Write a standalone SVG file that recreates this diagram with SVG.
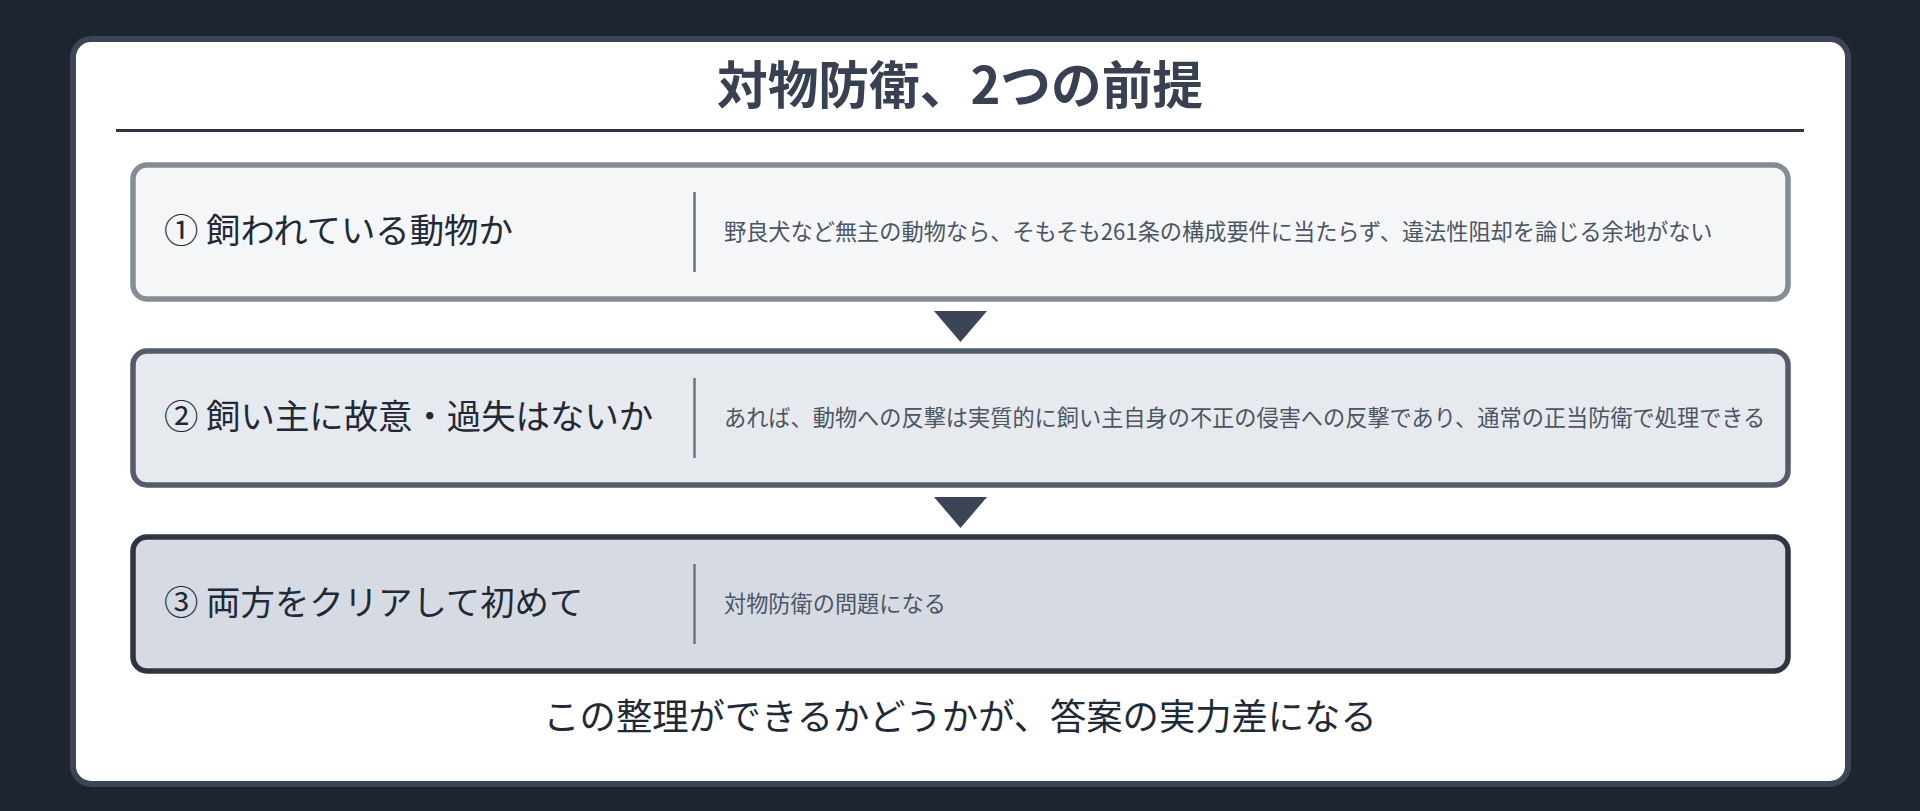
<svg xmlns="http://www.w3.org/2000/svg" width="1920" height="811" viewBox="0 0 1920 811">
  <style>
    text { font-family: "Noto Sans CJK JP", "Noto Sans", sans-serif; }
    .title { font-size: 50.7px; font-weight: 700; fill: #374151; }
    .label { font-size: 34.4px; fill: #1f2937; }
    .desc { font-size: 22.2px; fill: #4b5563; }
    .foot { font-size: 36.3px; fill: #1f2937; }
    .div { stroke: #6b7280; stroke-width: 2.5; }
    .arrow { fill: #3b4555; }
  </style>
  <rect x="0" y="0" width="1920" height="811" fill="#1e2530"/>
  <g id="card">
    <rect x="73" y="39" width="1775" height="745" rx="18" fill="#ffffff" stroke="#3b4555" stroke-width="6"/>
  </g>
  <g id="title">
    <text class="title" x="960" y="104" text-anchor="middle">対物防衛、2つの前提</text>
    <line x1="116" y1="130.5" x2="1804" y2="130.5" stroke="#2d3440" stroke-width="3"/>
  </g>
  <g id="step1">
    <rect x="133" y="165" width="1655" height="134" rx="14" fill="#f5f6f8" stroke="#848c99" stroke-width="5.5"/>
    <text class="label" x="164" y="243">① 飼われている動物か</text>
    <line class="div" x1="694.5" y1="192" x2="694.5" y2="272"/>
    <text class="desc" x="724" y="240">野良犬など無主の動物なら、そもそも261条の構成要件に当たらず、違法性阻却を論じる余地がない</text>
  </g>
  <g id="step2">
    <rect x="133" y="351" width="1655" height="134" rx="14" fill="#e6e9ed" stroke="#535c6b" stroke-width="5.5"/>
    <text class="label" x="164" y="429">② 飼い主に故意・過失はないか</text>
    <line class="div" x1="694.5" y1="378" x2="694.5" y2="458"/>
    <text class="desc" x="724" y="426">あれば、動物への反撃は実質的に飼い主自身の不正の侵害への反撃であり、通常の正当防衛で処理できる</text>
  </g>
  <g id="step3">
    <rect x="133" y="537" width="1655" height="134" rx="14" fill="#d6dbe3" stroke="#2e3542" stroke-width="5.5"/>
    <text class="label" x="164" y="615">③ 両方をクリアして初めて</text>
    <line class="div" x1="694.5" y1="564" x2="694.5" y2="644"/>
    <text class="desc" x="724" y="612">対物防衛の問題になる</text>
  </g>
  <g id="connectors">
    <polygon class="arrow" points="934,311 987,311 960.5,342"/>
    <polygon class="arrow" points="934,497 987,497 960.5,528"/>
  </g>
  <g id="footer">
    <text class="foot" x="960" y="730" text-anchor="middle">この整理ができるかどうかが、答案の実力差になる</text>
  </g>
</svg>
